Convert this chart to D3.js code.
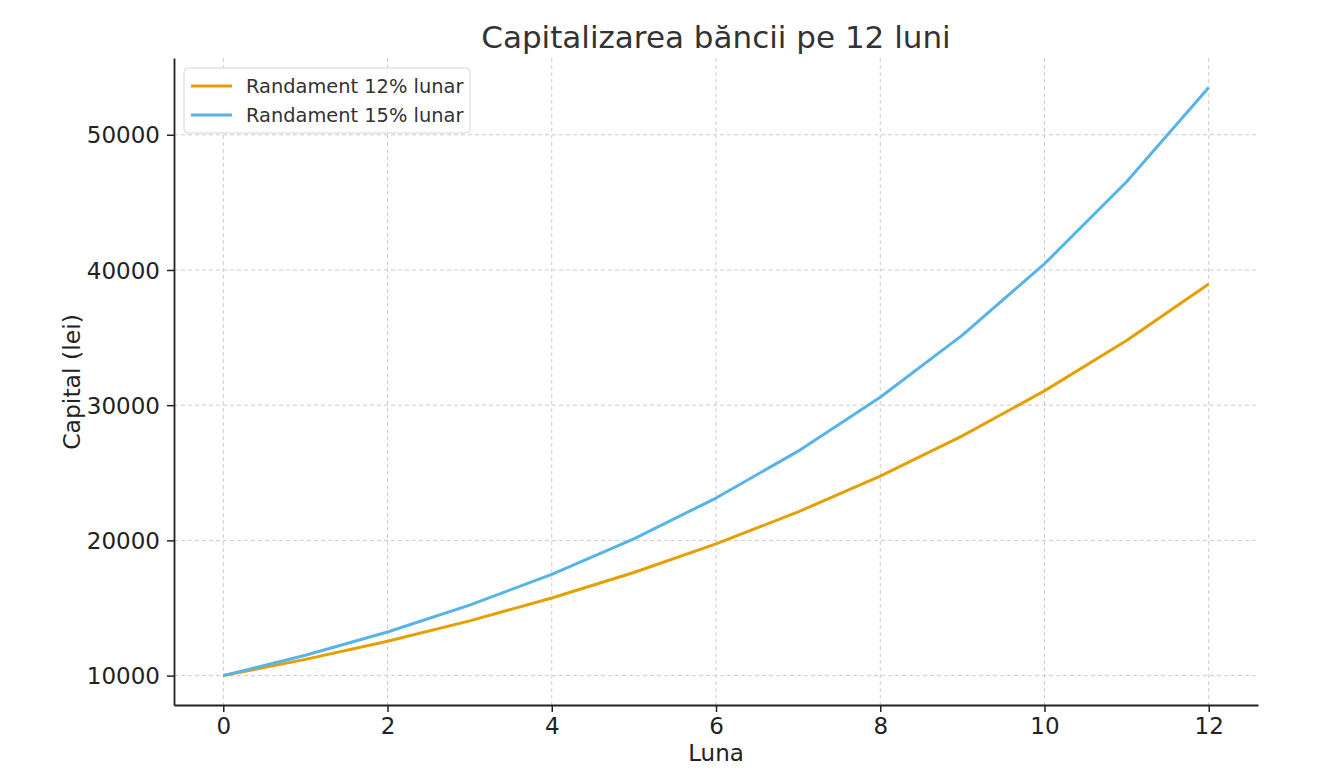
<!DOCTYPE html>
<html><head><meta charset="utf-8">
<script src="https://cdn.jsdelivr.net/npm/d3@7"></script>
<style>body{margin:0;background:#fff;font-family:"DejaVu Sans",sans-serif;}</style>
</head><body><svg id="c" width="1320" height="780"></svg>
<script>
const months = [0,1,2,3,4,5,6,7,8,9,10,11,12];
const rate12 = [10000,11200,12544,14049,15735,17623,19738,22107,24760,27731,31058,34785,38960];
const rate15 = [10000,11500,13225,15209,17490,20114,23131,26600,30590,35179,40456,46524,53503];
const seriesNames = ["Randament 12% lunar","Randament 15% lunar"];
const seriesColors = ["#E69F00","#56B4E9"];
const xTicks = [0,2,4,6,8,10,12];
const yTicks = [10000,20000,30000,40000,50000];

const svg = d3.select("#c");
const L=174,R=1258,T=58,B=705;
const x = d3.scaleLinear().domain([-0.6,12.6]).range([L,R]);
const y = d3.scaleLinear().domain([7825,55678]).range([B,T]);

// grid
svg.append("g").selectAll("line").data(xTicks).join("line")
  .attr("x1",d=>x(d)).attr("x2",d=>x(d)).attr("y1",T).attr("y2",B)
  .attr("stroke","#cccccc").attr("stroke-width",1).attr("stroke-dasharray","4,3");
svg.append("g").selectAll("line").data(yTicks).join("line")
  .attr("y1",d=>y(d)).attr("y2",d=>y(d)).attr("x1",L).attr("x2",R)
  .attr("stroke","#cccccc").attr("stroke-width",1).attr("stroke-dasharray","4,3");

// axes
const xa = svg.append("g").attr("transform",`translate(0,${B})`)
  .call(d3.axisBottom(x).tickValues(xTicks).tickSize(7).tickPadding(6).tickSizeOuter(0));
const ya = svg.append("g").attr("transform",`translate(${L},0)`)
  .call(d3.axisLeft(y).tickValues(yTicks).tickFormat(d3.format("d")).tickSize(7).tickPadding(7).tickSizeOuter(0));
[xa,ya].forEach(a=>{
  a.select(".domain").attr("stroke","#222").attr("stroke-width",1.8);
  a.selectAll(".tick line").attr("stroke","#222").attr("stroke-width",1.5);
  a.selectAll(".tick text").attr("fill","#222").style("font-size","23px").style("font-family","DejaVu Sans");
});
ya.selectAll(".tick text").attr("dy","0.35em");

// lines
const line = d3.line().x((d,i)=>x(months[i])).y(d=>y(d));
[rate12,rate15].forEach((s,i)=>{
  svg.append("path").datum(s).attr("d",line).attr("fill","none")
    .attr("stroke",seriesColors[i]).attr("stroke-width",3).attr("stroke-linejoin","round");
});

// title & labels
svg.append("text").attr("x",716).attr("y",48).attr("text-anchor","middle")
  .attr("fill","#333").style("font-size","31px").text("Capitalizarea băncii pe 12 luni");
svg.append("text").attr("x",716).attr("y",761).attr("text-anchor","middle")
  .attr("fill","#222").style("font-size","23px").text("Luna");
svg.append("text").attr("transform","translate(80,382) rotate(-90)").attr("text-anchor","middle")
  .attr("fill","#222").style("font-size","23.5px").text("Capital (lei)");

// legend
const lg = svg.append("g");
lg.append("rect").attr("x",184).attr("y",68).attr("width",286).attr("height",65).attr("rx",4)
  .attr("fill","#fff").attr("fill-opacity",0.85).attr("stroke","#d6d6d6").attr("stroke-width",1);
seriesNames.forEach((n,i)=>{
  const yy = 86 + i*29;
  lg.append("line").attr("x1",191).attr("x2",232).attr("y1",yy).attr("y2",yy)
    .attr("stroke",seriesColors[i]).attr("stroke-width",3);
  lg.append("text").attr("x",246).attr("y",yy).attr("dy","0.35em").attr("fill","#333")
    .style("font-size","19.4px").text(n);
});
</script></body></html>
